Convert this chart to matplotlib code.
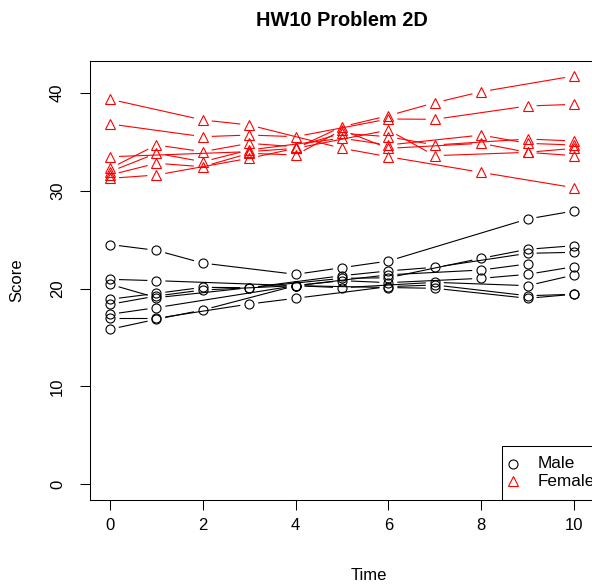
# HW10 Problem 2D - scores over time, by sex

import numpy as np
import matplotlib.pyplot as plt
from matplotlib.lines import Line2D
from matplotlib.patches import Rectangle

plt.rcParams['font.family'] = ['Liberation Sans', 'DejaVu Sans']

# - - - data: one (times, scores) pair per subject
male_times = [
    [0, 1, 2, 4, 5, 6, 9, 10],
    [0, 1, 4, 6, 8, 9],
    [0, 1, 3, 5, 6, 7, 9, 10],
    [0, 1, 2, 3, 5, 6, 8, 9, 10],
    [0, 1, 2, 4, 5, 6, 8, 9, 10],
    [0, 1, 4, 5, 7, 9, 10],
    [0, 1, 3, 4, 6, 7, 9, 10],
    [0, 1, 2, 4, 6, 7, 9, 10],
]
male_scores = [
    [24.5, 23.9, 22.6, 21.45, 22.13, 22.81, 27.11, 27.93],
    [20.94, 20.8, 20.29, 21.4, 21.89, 22.51],
    [20.43, 19.06, 20.08, 21.31, 21.8, 22.17, 23.6, 23.7],
    [18.9, 19.5, 20.12, 20.08, 21.04, 21.1, 23.09, 24.01, 24.38],
    [18.38, 19.23, 19.85, 20.29, 20.8, 20.6, 21.04, 21.45, 22.23],
    [17.36, 18.04, 20.29, 20.08, 20.63, 20.29, 21.38],
    [16.95, 16.95, 18.41, 19.0, 20.19, 20.36, 19.26, 19.41],
    [15.83, 16.85, 17.8, 20.29, 20.1, 20.02, 19.0, 19.41],
]

female_times = [
    [0, 2, 3, 5, 6, 8, 10],
    [0, 2, 3, 4, 6, 7, 9, 10],
    [0, 3, 4, 5, 6, 7, 8, 10],
    [0, 1, 2, 3, 4, 5, 6, 7, 9, 10],
    [0, 1, 2, 3, 5, 6, 8, 9, 10],
    [0, 1, 2, 3, 4, 5, 6, 8, 9, 10],
    [0, 1, 3, 4, 6, 7, 9, 10],
]
female_scores = [
    [39.36, 37.24, 36.73, 34.34, 33.48, 31.88, 30.31],
    [36.83, 35.53, 35.70, 35.53, 37.34, 37.31, 38.67, 38.84],
    [33.48, 34.0, 34.34, 36.55, 37.68, 39.0, 40.13, 41.74],
    [32.29, 34.68, 34.0, 34.85, 34.5, 35.88, 35.53, 34.68, 35.29, 35.09],
    [31.95, 33.83, 32.97, 34.17, 35.37, 34.68, 35.70, 34.85, 34.68],
    [31.61, 32.81, 32.46, 33.83, 33.66, 36.21, 34.34, 34.85, 33.93, 34.34],
    [31.27, 31.61, 33.32, 34.34, 36.21, 33.59, 33.93, 33.59],
]

x_ticks = [0, 2, 4, 6, 8, 10]
y_ticks = [0, 10, 20, 30, 40]
legend_labels = ['Male', 'Female']

# - - - figure layout (pixels of a 592x586 picture)
W, H = 592, 586
fig = plt.figure(figsize=(W / 100, H / 100), dpi=100)
ax_l, ax_r, ax_t, ax_b = 90, 640, 61, 500
ax = fig.add_axes([ax_l / W, 1 - ax_b / H, (ax_r - ax_l) / W, (ax_b - ax_t) / H])

# axis scale: x=0 at 110 px, x=10 at 574 px; y=0 at 484 px, y=40 at 93 px
xpx = (574 - 110) / 10
ypx = (484 - 93) / 40
ax.set_xlim((ax_l - 110) / xpx, (ax_r - 110) / xpx)
ax.set_ylim((484 - ax_b) / ypx, (484 - ax_t) / ypx)


def plot_subject(t, v, color, marker, ms, gap=9):
    # R type="b": points joined by lines that stop short of each point
    pts = ax.transData.transform(np.column_stack([t, v]))
    inv = ax.transData.inverted()
    for p1, p2 in zip(pts[:-1], pts[1:]):
        d = p2 - p1
        L = np.hypot(*d)
        if L <= 2 * gap:
            continue
        a = inv.transform(p1 + d / L * gap)
        b = inv.transform(p2 - d / L * gap)
        ax.plot([a[0], b[0]], [a[1], b[1]], color=color, lw=0.8,
                solid_capstyle='butt')
    ax.plot(t, v, linestyle='none', marker=marker, ms=ms, mfc='none',
            mec=color, mew=0.8)


for t, v in zip(male_times, male_scores):
    plot_subject(t, v, 'black', 'o', 6.5)
for t, v in zip(female_times, female_scores):
    plot_subject(t, v, 'red', '^', 7.5)

# - - - axes styling, R base look
for s in ax.spines.values():
    s.set_linewidth(0.75)
ax.set_xticks(x_ticks)
ax.set_yticks(y_ticks)
ax.set_yticklabels([str(y) for y in y_ticks], rotation=90, va='center')
ax.tick_params(axis='both', labelsize=12, length=7, width=0.75)
ax.tick_params(axis='x', pad=5.8)
ax.tick_params(axis='y', pad=11)

fig.text(342 / W, 1 - 20 / H, 'HW10 Problem 2D', ha='center', va='center',
         fontsize=14.4, fontweight='bold')
fig.text(369 / W, 1 - 575 / H, 'Time', ha='center', va='center', fontsize=12)
fig.text(17 / W, 1 - 280 / H, 'Score', ha='center', va='center',
         rotation=90, fontsize=12)

# - - - legend (bottom right, runs off the picture as in the original)
fig.add_artist(Rectangle((502 / W, 1 - 500 / H), 1, 54 / H,
                         transform=fig.transFigure, fill=False, lw=0.75,
                         edgecolor='black'))
for lab, col, mk, ms, yy in zip(legend_labels, ['black', 'red'], ['o', '^'],
                                [6.5, 7.5], [463.5, 481]):
    fig.add_artist(Line2D([513 / W], [1 - yy / H], transform=fig.transFigure,
                          linestyle='none', marker=mk, ms=ms, mfc='none',
                          mec=col, mew=0.8))
    fig.text(538 / W, 1 - yy / H, lab, ha='left', va='center', fontsize=12.3)

fig.savefig('out.png', dpi=100)
